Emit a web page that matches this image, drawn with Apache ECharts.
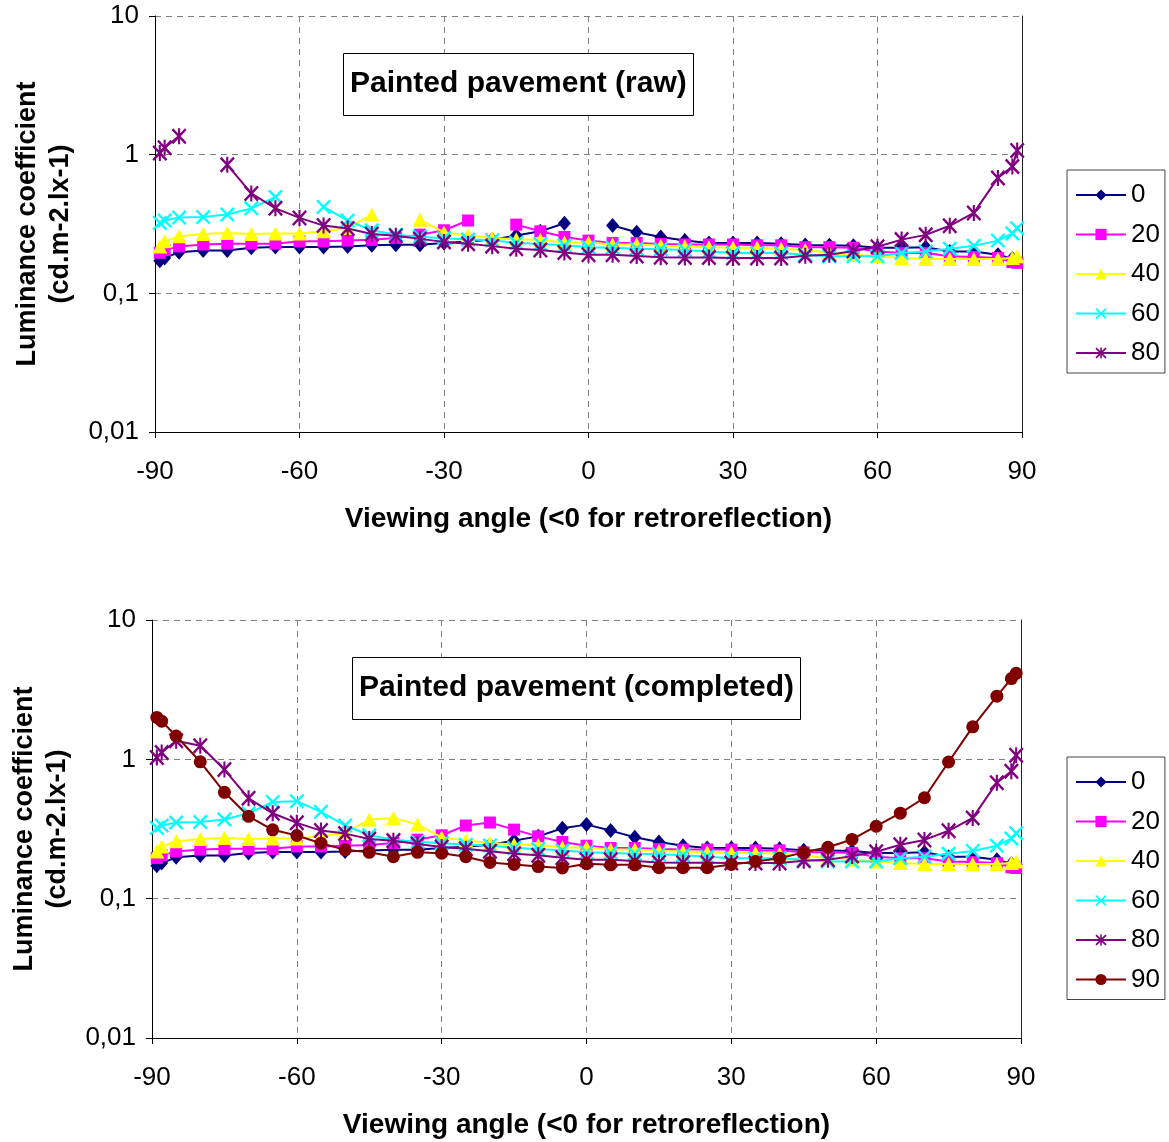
<!DOCTYPE html>
<html>
<head>
<meta charset="utf-8">
<script src="https://cdn.jsdelivr.net/npm/echarts@6/dist/echarts.min.js"></script>
<style>html,body{margin:0;padding:0;background:#fff}#c{width:1169px;height:1142px}</style>
</head>
<body>
<div id="c"></div>
<script>
// ---- data ----
const angles = [-89,-88,-85,-80,-75,-70,-65,-60,-55,-50,-45,-40,-35,-30,-25,-20,-15,-10,-5,0,5,10,15,20,25,30,35,40,45,50,55,60,65,70,75,80,85,88,89];
const seriesNames = ['0','20','40','60','80','90'];
const gapAngles = [0,-20,-40,-60,-80];   // angles missing in the raw data (per illumination angle)
const s0  = [0.172,0.18,0.198,0.204,0.204,0.213,0.216,0.216,0.216,0.218,0.222,0.224,0.224,0.231,0.236,0.244,0.261,0.28,0.32,0.34,0.308,0.276,0.255,0.24,0.231,0.231,0.231,0.228,0.223,0.222,0.22,0.213,0.213,0.215,0.2,0.2,0.19,0.178,0.175];
const s20 = [0.196,0.205,0.218,0.225,0.228,0.228,0.228,0.237,0.237,0.24,0.243,0.251,0.265,0.285,0.335,0.352,0.313,0.28,0.255,0.24,0.231,0.231,0.227,0.225,0.225,0.225,0.222,0.222,0.215,0.215,0.213,0.2,0.195,0.195,0.185,0.183,0.18,0.168,0.166];
const s40 = [0.218,0.237,0.258,0.268,0.272,0.268,0.27,0.27,0.28,0.296,0.37,0.38,0.34,0.275,0.262,0.251,0.245,0.243,0.233,0.233,0.225,0.225,0.22,0.218,0.215,0.213,0.213,0.21,0.205,0.195,0.19,0.185,0.18,0.177,0.177,0.177,0.177,0.18,0.185];
const s60 = [0.322,0.335,0.352,0.355,0.37,0.41,0.495,0.5,0.42,0.335,0.285,0.265,0.256,0.25,0.244,0.241,0.231,0.227,0.222,0.215,0.213,0.21,0.208,0.205,0.2,0.195,0.195,0.195,0.19,0.185,0.185,0.185,0.195,0.2,0.21,0.22,0.24,0.27,0.295];
const s80 = [1.03,1.12,1.36,1.25,0.845,0.525,0.41,0.35,0.308,0.293,0.268,0.26,0.247,0.235,0.228,0.219,0.21,0.205,0.197,0.19,0.19,0.186,0.182,0.181,0.181,0.18,0.18,0.18,0.187,0.19,0.202,0.217,0.244,0.264,0.307,0.38,0.68,0.82,1.07];
const s90 = [2.0,1.88,1.47,0.96,0.58,0.39,0.312,0.284,0.25,0.224,0.215,0.2,0.215,0.212,0.2,0.182,0.176,0.17,0.166,0.178,0.175,0.175,0.167,0.167,0.167,0.176,0.185,0.195,0.215,0.234,0.266,0.331,0.411,0.53,0.957,1.71,2.84,3.8,4.14];
const yTickLabels = ['0,01','0,1','1','10'];
const titles = ['Painted pavement (raw)','Painted pavement (completed)'];
const xName = 'Viewing angle (<0 for retroreflection)';
const yName = 'Luminance coefficient\n(cd.m-2.lx-1)';

// ---- styling ----
const X_PATH = 'path://M0,1.1 L1.1,0 L5,3.9 L8.9,0 L10,1.1 L6.1,5 L10,8.9 L8.9,10 L5,6.1 L1.1,10 L0,8.9 L3.9,5 Z';
const STAR_PATH = 'path://M0,1.1 L1.1,0 L5,3.9 L8.9,0 L10,1.1 L6.1,5 L10,8.9 L8.9,10 L5,6.1 L1.1,10 L0,8.9 L3.9,5 Z M4.3,0 L5.7,0 L5.7,10 L4.3,10 Z';
const styles = [
  {color:'#000080', symbol:'diamond', size:[13,15]},
  {color:'#FF00FF', symbol:'rect', size:[12,12]},
  {color:'#FFFF00', symbol:'triangle', size:[15,14]},
  {color:'#00FFFF', symbol:X_PATH, size:[15,15]},
  {color:'#800080', symbol:STAR_PATH, size:[15,16]},
  {color:'#800000', symbol:'circle', size:[13,13]}
];
const allValues = [s0,s20,s40,s60,s80,s90];
const FONT = 'Liberation Sans, Arial, sans-serif';

function makeSeries(idx, gridIdx, raw) {
  const st = styles[idx];
  const vals = allValues[idx];
  const gap = raw ? gapAngles[idx] : null;
  return {
    name: seriesNames[idx], type:'line',
    xAxisIndex: gridIdx, yAxisIndex: gridIdx*2,
    data: angles.map((a,i) => [a, (raw && a === gap) ? '-' : vals[i]]),
    symbol: st.symbol, symbolSize: st.size,
    lineStyle:{color:st.color, width:2},
    itemStyle:{color:st.color, borderWidth:0},
    emphasis:{disabled:true},
    animation:false, z: 2 + idx
  };
}

function xAxisOpt(gridIdx) {
  return {
    gridIndex: gridIdx, type:'value', min:-90, max:90, interval:30,
    name: xName, nameLocation:'middle', nameGap:73,
    nameTextStyle:{fontSize:28, fontWeight:'bold', color:'#000', fontFamily:FONT},
    axisLine:{onZero:false, lineStyle:{color:'#000', width:1}},
    axisTick:{show:true, inside:false, length:6, lineStyle:{color:'#000'}},
    axisLabel:{fontSize:26, color:'#000', margin:27, fontFamily:FONT},
    splitLine:{show:true, lineStyle:{color:'#808080', type:[6,5], width:1}}
  };
}
function yAxisOpt(gridIdx) {
  return {
    gridIndex: gridIdx, type:'log', logBase:10, min:0.01, max:10,
    name: yName, nameLocation:'middle', nameGap:68,
    nameTextStyle:{fontSize:27, fontWeight:'bold', color:'#000', lineHeight:33, fontFamily:FONT},
    axisLine:{show:true, onZero:false, lineStyle:{color:'#000', width:1}},
    axisTick:{show:true, inside:false, length:6, lineStyle:{color:'#000'}},
    axisLabel:{fontSize:26, color:'#000', margin:16, fontFamily:FONT,
      formatter: v => yTickLabels[Math.round(Math.log10(v)) + 2]},
    splitLine:{show:true, lineStyle:{color:'#808080', type:[6,5], width:1}}
  };
}
function yRightOpt(gridIdx) {
  return {
    gridIndex: gridIdx, type:'log', logBase:10, min:0.01, max:10, position:'right',
    axisLine:{show:true, onZero:false, lineStyle:{color:'#222', width:1}},
    axisTick:{show:false}, axisLabel:{show:false}, splitLine:{show:false}
  };
}
function legendOpt(top, names) {
  return {
    data: names, orient:'vertical', left:1067, top: top,
    borderColor:'#444', borderWidth:1, padding:[12,5,7,8],
    itemWidth:50, itemHeight:14, itemGap:13.5,
    textStyle:{fontSize:26, color:'#000', fontFamily:FONT},
    selectedMode:false
  };
}
function titleOpt(text, left, top) {
  return {
    text: text, left:left, top:top,
    borderColor:'#000', borderWidth:1, padding:[16,7,17,7], backgroundColor:'#fff',
    textStyle:{fontSize:30, fontWeight:'bold', color:'#000', fontFamily:FONT}
  };
}

const series = [];
for (let i = 0; i < 5; i++) series.push(makeSeries(i, 0, true));
for (let i = 0; i < 6; i++) series.push(makeSeries(i, 1, false));

const option = {
  backgroundColor:'#fff',
  animation:false,
  title:[titleOpt(titles[0], 343, 53), titleOpt(titles[1], 352, 657)],
  legend:[legendOpt(170, seriesNames.slice(0,5)), legendOpt(757, seriesNames.slice(0,6))],
  grid:[
    {left:155, top:16, width:867, height:416},
    {left:152, top:620, width:869, height:418}
  ],
  xAxis:[xAxisOpt(0), xAxisOpt(1)],
  yAxis:[yAxisOpt(0), yRightOpt(0), yAxisOpt(1), yRightOpt(1)],
  series: series
};
const chart = echarts.init(document.getElementById('c'), null, {renderer:'canvas'});
chart.setOption(option);
</script>
</body>
</html>
